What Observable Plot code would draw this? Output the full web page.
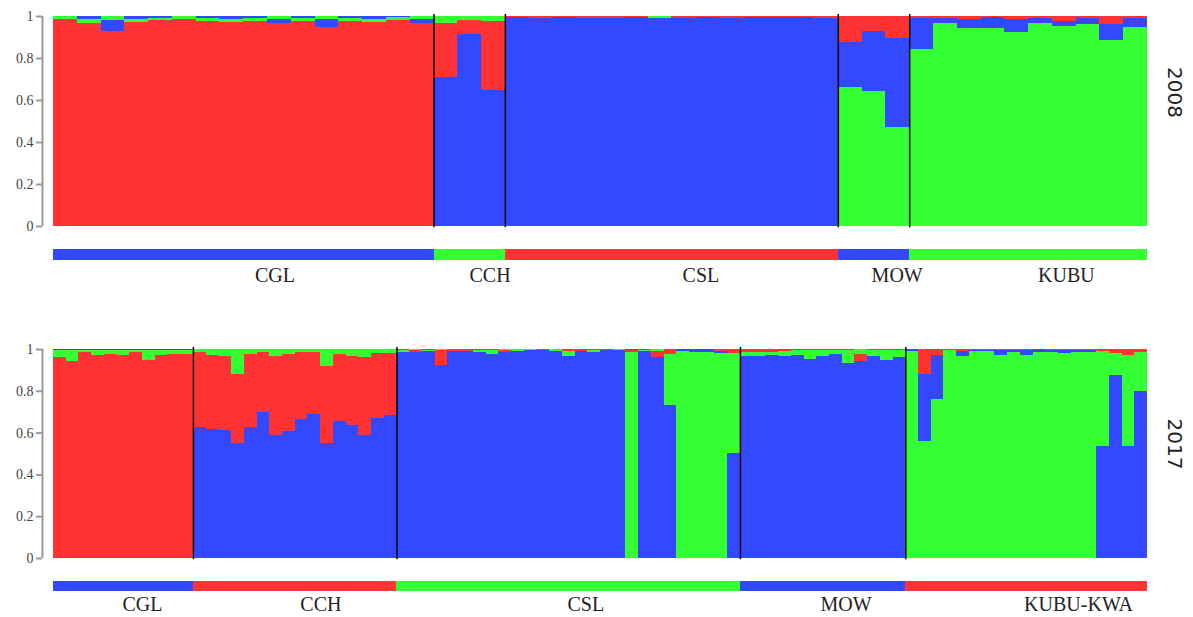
<!DOCTYPE html>
<html>
<head>
<meta charset="utf-8">
<script src="https://cdn.jsdelivr.net/npm/d3@7"></script>
<script src="https://cdn.jsdelivr.net/npm/@observablehq/plot@0.6"></script>
<style>
  html, body { margin: 0; padding: 0; background: #fff; }
  #chart svg { display: block; }
</style>
</head>
<body>
<div id="chart"></div>
<script>
// Cluster colours (red, blue, green)
const clusterColors = ["#ff3333", "#3349ff", "#33ff33"];

// ---------- 2008 ----------
const groups2008 = ["CGL", "CCH", "CSL", "MOW", "KUBU"];
const sizes2008 = [16, 3, 14, 3, 10];
const stripColors2008 = ["#3349ff", "#33ff33", "#ff3333", "#3349ff", "#33ff33"];
const labelPos2008 = [8.47, 17.49, 26.45, 34.4, 41.4];
const red2008 = [
  0.985,0.965,0.93,0.97,0.98,0.985,0.978,0.97,0.975,0.965,0.975,0.95,0.975,0.97,0.98,0.965,
  0.257,0.066,0.328,
  0.003,0.01,0.003,0.01,0.01,0.003,0.0,0.01,0.003,0.01,0.003,0.003,0.003,0.01,
  0.122,0.071,0.106,
  0.01,0.01,0.016,0.005,0.012,0.01,0.022,0.011,0.038,0.011
];
const blue2008 = [
  0.0,0.015,0.05,0.015,0.01,0.0,0.01,0.015,0.01,0.02,0.01,0.035,0.01,0.015,0.005,0.02,
  0.708,0.914,0.648,
  0.995,0.99,0.995,0.99,0.99,0.995,0.99,0.99,0.995,0.99,0.995,0.995,0.995,0.99,
  0.218,0.286,0.424,
  0.149,0.025,0.043,0.054,0.063,0.025,0.026,0.027,0.076,0.04
];
const green2008 = [
  0.015,0.02,0.02,0.015,0.01,0.015,0.012,0.015,0.015,0.015,0.015,0.015,0.015,0.015,0.015,0.015,
  0.035,0.02,0.024,
  0.002,0.0,0.002,0.0,0.0,0.002,0.01,0.0,0.002,0.0,0.002,0.002,0.002,0.0,
  0.66,0.643,0.47,
  0.841,0.965,0.941,0.941,0.925,0.965,0.952,0.962,0.886,0.949
];

// ---------- 2017 ----------
const groups2017 = ["CGL", "CCH", "CSL", "MOW", "KUBU-KWA"];
const sizes2017 = [11, 16, 27, 13, 19];
const stripColors2017 = ["#3349ff", "#ff3333", "#33ff33", "#3349ff", "#ff3333"];
const labelPos2017 = [5.42, 19.4, 40.4, 60.3, 76.3];
const red2017 = [
  0.96,0.944,0.984,0.973,0.978,0.97,0.984,0.949,0.973,0.976,0.978,
  0.357,0.354,0.354,0.332,0.351,0.289,0.375,0.372,0.319,0.294,0.37,0.324,0.329,0.372,0.311,0.295,
  0.005,0.008,0.005,0.07,0.01,0.01,0.005,0.005,0.01,0.002,0.002,0.003,0.002,0.011,0.01,0.003,0.003,0.004,0.01,0.005,0.028,0.022,0.0,0.0,0.0,0.01,0.02,
  0.015,0.012,0.012,0.01,0.007,0.007,0.007,0.007,0.007,0.034,0.007,0.007,0.007,
  0.0,0.12,0.03,0.006,0.011,0.005,0.005,0.007,0.006,0.007,0.002,0.005,0.007,0.005,0.005,0.01,0.02,0.03,0.016
];
const blue2017 = [
  0.007,0.006,0.006,0.007,0.007,0.005,0.006,0.006,0.007,0.007,0.007,
  0.627,0.619,0.614,0.55,0.627,0.697,0.59,0.606,0.665,0.69,0.55,0.654,0.636,0.59,0.67,0.686,
  0.985,0.985,0.99,0.925,0.99,0.99,0.985,0.977,0.985,0.99,0.993,0.995,0.99,0.965,0.99,0.985,0.995,0.993,0.005,0.99,0.962,0.734,0.01,0.015,0.015,0.01,0.502,
  0.965,0.968,0.97,0.965,0.973,0.954,0.968,0.975,0.933,0.944,0.968,0.946,0.962,
  0.01,0.32,0.21,0.0,0.024,0.005,0.005,0.02,0.01,0.02,0.01,0.008,0.013,0.01,0.01,0.537,0.874,0.537,0.797
];
const green2017 = [
  0.033,0.05,0.01,0.02,0.015,0.025,0.01,0.045,0.02,0.017,0.015,
  0.016,0.027,0.032,0.118,0.022,0.014,0.035,0.022,0.016,0.016,0.08,0.022,0.035,0.038,0.019,0.019,
  0.01,0.007,0.005,0.005,0.0,0.0,0.01,0.018,0.005,0.008,0.005,0.002,0.008,0.024,0.0,0.012,0.002,0.003,0.985,0.005,0.01,0.244,0.99,0.985,0.985,0.98,0.478,
  0.02,0.02,0.018,0.025,0.02,0.039,0.025,0.018,0.06,0.022,0.025,0.047,0.031,
  0.99,0.56,0.76,0.994,0.965,0.99,0.99,0.973,0.984,0.973,0.988,0.987,0.98,0.985,0.985,0.453,0.106,0.433,0.187
];

const yTicks = [0, 0.2, 0.4, 0.6, 0.8, 1];
const serif = "'Liberation Serif', 'Times New Roman', serif";

function panel({year, groups, sizes, stripColors, labelPos, red, blue, green, height, marginTop, marginBottom, stripY, labelY, yearDy}) {
  const N = red.length;
  const rows = [];
  for (let i = 0; i < N; i++) {
    rows.push({i, k: 0, q: red[i]});
    rows.push({i, k: 1, q: blue[i]});
    rows.push({i, k: 2, q: green[i]});
  }
  const starts = d3.cumsum([0, ...sizes.slice(0, -1)]);
  const groupTable = groups.map((g, j) => ({
    name: g, start: starts[j], end: starts[j] + sizes[j], color: stripColors[j], label: labelPos[j]
  }));
  const boundaries = groupTable.slice(1).map(d => d.start);

  return Plot.plot({
    width: 1193,
    height,
    marginLeft: 42,
    marginRight: 46,
    marginTop,
    marginBottom,
    style: {fontFamily: serif, background: "#fff"},
    x: {domain: [0, N], insetLeft: 11, axis: null},
    y: {domain: [0, 1], axis: null, label: null},
    color: {type: "identity"},
    marks: [
      Plot.rect(rows, Plot.stackY({
        x: "i", x1: "i", x2: d => d.i + 1, y: "q",
        fill: d => clusterColors[d.k],
        order: "value", reverse: true,
        shapeRendering: "crispEdges"
      })),
      Plot.ruleX(boundaries, {y1: -0.006, y2: 1.01, stroke: "#000", strokeWidth: 1.5}),
      Plot.ruleX([0], {dx: -11, y1: 0, y2: 1, stroke: "#999", strokeWidth: 2}),
      Plot.axisY({
        ticks: yTicks, tickFormat: d => String(d), tickSize: 6, tickPadding: 3, label: null,
        stroke: "#999", fill: "#444", fontSize: 14, strokeWidth: 2
      }),
      Plot.rect(groupTable, {
        x1: "start", x2: "end", y1: stripY[0], y2: stripY[1], fill: "color",
        shapeRendering: "crispEdges"
      }),
      Plot.text(groupTable, {
        x: "label", y: labelY, text: "name", textAnchor: "start",
        fontSize: 20, fill: "#222", fontFamily: serif
      }),
      Plot.text([year], {
        frameAnchor: "right", text: d => d, rotate: 90, dx: 27, dy: yearDy,
        fontSize: 20, fill: "#222", fontFamily: "'DejaVu Sans', sans-serif"
      })
    ]
  });
}

const chart = document.getElementById("chart");
chart.append(panel({
  year: "2008", groups: groups2008, sizes: sizes2008, stripColors: stripColors2008, labelPos: labelPos2008,
  red: red2008, blue: blue2008, green: green2008,
  height: 300, marginTop: 16, marginBottom: 74,
  stripY: [-0.108, -0.16], labelY: -0.235, yearDy: -3.5
}));
chart.append(panel({
  year: "2017", groups: groups2017, sizes: sizes2017, stripColors: stripColors2017, labelPos: labelPos2017,
  red: red2017, blue: blue2017, green: green2017,
  height: 317, marginTop: 49, marginBottom: 59,
  stripY: [-0.108, -0.16], labelY: -0.22, yearDy: 15.5
}));
</script>
</body>
</html>
